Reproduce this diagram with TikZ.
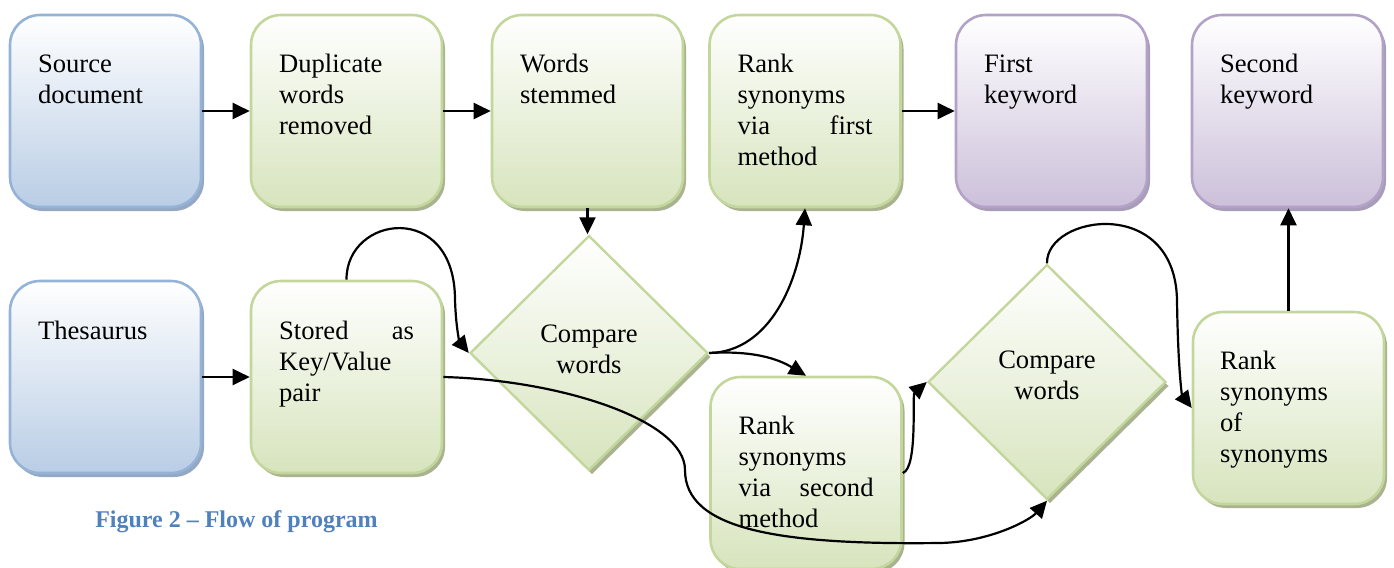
\documentclass[tikz,border=0pt]{standalone}
\usepackage{fontspec}
\setmainfont{Liberation Serif}
\usetikzlibrary{shapes,arrows.meta,positioning,shadows}
\definecolor{blueline}{HTML}{95B3D7}
\definecolor{bluefill}{HTML}{B9CDE5}
\definecolor{blueshade}{HTML}{94A7C3}
\definecolor{greenline}{HTML}{C3D69B}
\definecolor{greenfill}{HTML}{D7E4BD}
\definecolor{greenshade}{HTML}{A9B38F}
\definecolor{purpleline}{HTML}{B3A2C7}
\definecolor{purplefill}{HTML}{CCC0DA}
\definecolor{purpleshade}{HTML}{A89CB8}
\definecolor{captionblue}{HTML}{4F81BD}

\begin{document}
\begin{tikzpicture}[x=0.5pt, y=-0.5pt,
  procbox/.style={rectangle, rounded corners=15pt, line width=1.3pt, draw=#1line, top color=white, bottom color=#1fill, minimum width=95.5pt, minimum height=96pt, drop shadow={shadow xshift=1.5pt, shadow yshift=-2pt, fill=#1shade, opacity=1}},
  decision/.style={diamond, aspect=1, line width=1.2pt, draw=greenline, top color=white, bottom color=greenfill, minimum width=119pt, minimum height=117.5pt, inner sep=0pt, drop shadow={shadow xshift=1.5pt, shadow yshift=-2pt, fill=greenshade, opacity=1}},
  txt/.style={anchor=base west, text width=67.5pt, align=left, inner sep=0pt, font=\fontsize{13.3pt}{15.5pt}\selectfont},
  dtxt/.style={anchor=base, text width=70pt, align=center, inner sep=0pt, font=\fontsize{13.3pt}{15.5pt}\selectfont},
  arr/.style={-{Triangle[length=8.5pt,width=8pt]}, line width=1.1pt, black}
]
  \useasboundingbox (0,0) rectangle (1394,568);

  % top row
  \node[procbox=blue] (src) at (105.5,111) {};
  \node[procbox=green] (dup) at (346.5,111) {};
  \node[procbox=green] (stem) at (587.5,111) {};
  \node[procbox=green] (rank1) at (805,111) {};
  \node[procbox=purple] (first) at (1051.5,111) {};
  \node[procbox=purple] (second) at (1287.5,111) {};

  % lower row
  \node[procbox=blue] (thes) at (105.5,377) {};
  \node[procbox=green] (stored) at (346.5,377) {};
  \node[decision] (cmp1) at (589,353) {};
  \node[procbox=green] (rank2) at (806,473) {};
  \node[decision] (cmp2) at (1047,382) {};
  \node[procbox=green] (rank3) at (1288.5,408) {};

  % texts
  \node[txt] (src-t) at ([shift={(29,59)}]src.north west) {Source\\document};
  \node[txt] (dup-t) at ([shift={(29,59)}]dup.north west) {Duplicate\\words\\removed};
  \node[txt] (stem-t) at ([shift={(29,59)}]stem.north west) {Words\\stemmed};
  \node[txt] (rank1-t) at ([shift={(29,59)}]rank1.north west) {Rank\\synonyms\\via\hfill first\\method};
  \node[txt] (first-t) at ([shift={(29,59)}]first.north west) {First\\keyword};
  \node[txt] (second-t) at ([shift={(29,59)}]second.north west) {Second\\keyword};
  \node[txt] (thes-t) at ([shift={(29,60)}]thes.north west) {Thesaurus};
  \node[txt] (stored-t) at ([shift={(29,60)}]stored.north west) {Stored\hfill as\\Key/Value\\pair};
  \node[txt] (rank2-t) at ([shift={(29,59)}]rank2.north west) {Rank\\synonyms\\via\hfill second\\method};
  \node[txt] (rank3-t) at ([shift={(28,59)}]rank3.north west) {Rank\\synonyms\\of\\synonyms};
  \node[dtxt] (cmp1-t) at ([shift={(0,-11)}]cmp1.center) {Compare\\words};
  \node[dtxt] (cmp2-t) at ([shift={(0,-14)}]cmp2.center) {Compare\\words};

  \node[anchor=base, inner sep=0pt, text=captionblue, font=\bfseries\fontsize{12pt}{14pt}\selectfont] (caption) at (236.5,527) {Figure 2 -- Flow of program};

  % connectors
  \draw[arr] (src.east) -- (dup.west);
  \draw[arr] (dup.east) -- (stem.west);
  \draw[arr] (rank1.east) -- (first.west);
  \draw[arr] (thes.east) -- (stored.west);
  \draw[arr] (stem.south) -- (stem.south |- cmp1.north);
  \draw[arr] (stored.north) .. controls (346,215) and (455,200) .. (455,300) .. controls (456,330) and (460,342) .. (cmp1.west);
  \draw[arr] (cmp1.east) .. controls (770,352) and (800,280) .. (rank1.south);
  \draw[arr] (cmp1.east) .. controls (760,350) and (783,362) .. (rank2.north);
  \draw[arr] (stored.east) .. controls (560,380) and (685,420) .. (685,470) .. controls (685,530) and (780,545) .. (940,543) .. controls (990,542) and (1030,520) .. (cmp2.south);
  \draw[arr] (rank2.east) .. controls (918,468) and (912,395) .. (cmp2.west);
  \draw[arr] (cmp2.north) .. controls (1046,215) and (1175,195) .. (1177,300) .. controls (1178,370) and (1182,395) .. (rank3.west);
  \draw[arr] (rank3.north) -- (rank3.north |- second.south);
\end{tikzpicture}
\end{document}
